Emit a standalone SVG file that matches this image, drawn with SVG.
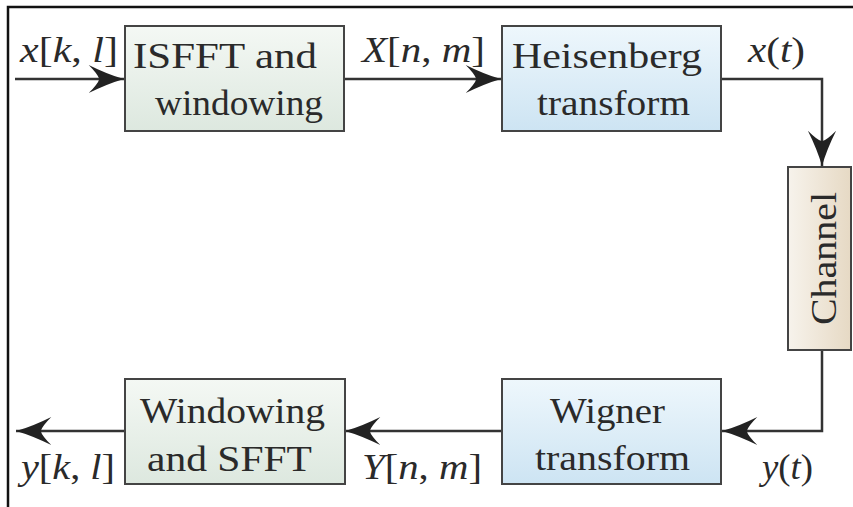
<svg xmlns="http://www.w3.org/2000/svg" width="853" height="507" viewBox="0 0 853 507">
<defs>
<linearGradient id="gGreen" x1="0" y1="0" x2="0" y2="1"><stop offset="0" stop-color="#f4f8f4"/><stop offset="1" stop-color="#dde8df"/></linearGradient>
<linearGradient id="gBlue" x1="0" y1="0" x2="0" y2="1"><stop offset="0" stop-color="#eef7fc"/><stop offset="1" stop-color="#cde4f3"/></linearGradient>
<linearGradient id="gBeige" x1="0" y1="0" x2="1" y2="0"><stop offset="0" stop-color="#f7f3ec"/><stop offset="1" stop-color="#e6d9c4"/></linearGradient>
<marker id="arr" markerUnits="userSpaceOnUse" markerWidth="40" markerHeight="40" viewBox="-32 -14 34 28" refX="0" refY="0" orient="auto">
<path d="M0,0 Q-14,-4 -30,-12 Q-22,-4 -21,0 Q-22,4 -30,12 Q-14,4 0,0 Z" fill="#222"/>
</marker>
</defs>
<style>
.box{stroke:#444;stroke-width:2}
.t{font-family:'Liberation Serif','Times New Roman',Times,Tinos,'Noto Serif','DejaVu Serif',FreeSerif,Georgia,serif;font-size:36px;fill:#2a2a2a}
.i{font-style:italic}
.ln{fill:none;stroke:#333;stroke-width:2.5}
</style>
<rect x="0" y="0" width="853" height="507" fill="#fff"/>
<rect x="8" y="7" width="860" height="520" fill="none" stroke="#111" stroke-width="2.5"/>
<g id="connectors">
<path class="ln" d="M15,79 H124" marker-end="url(#arr)"/>
<path class="ln" d="M344,79 H501" marker-end="url(#arr)"/>
<path class="ln" d="M721,79 H822 V166" marker-end="url(#arr)"/>
<path class="ln" d="M822,350 V431 H722" marker-end="url(#arr)"/>
<path class="ln" d="M502,431 H345" marker-end="url(#arr)"/>
<path class="ln" d="M125,431 H16" marker-end="url(#arr)"/>
</g>
<g id="labels">
<text class="t" x="20" y="62" textLength="98" lengthAdjust="spacingAndGlyphs"><tspan class="i">x</tspan>[<tspan class="i">k</tspan>, <tspan class="i">l</tspan>]</text>
<text class="t" x="362" y="62" textLength="123" lengthAdjust="spacingAndGlyphs"><tspan class="i">X</tspan>[<tspan class="i">n</tspan>, <tspan class="i">m</tspan>]</text>
<text class="t" x="748" y="62" textLength="57" lengthAdjust="spacingAndGlyphs"><tspan class="i">x</tspan>(<tspan class="i">t</tspan>)</text>
<text class="t" x="762" y="479" textLength="51" lengthAdjust="spacingAndGlyphs"><tspan class="i">y</tspan>(<tspan class="i">t</tspan>)</text>
<text class="t" x="362" y="479" textLength="120" lengthAdjust="spacingAndGlyphs"><tspan class="i">Y</tspan>[<tspan class="i">n</tspan>, <tspan class="i">m</tspan>]</text>
<text class="t" x="21" y="479" textLength="94" lengthAdjust="spacingAndGlyphs"><tspan class="i">y</tspan>[<tspan class="i">k</tspan>, <tspan class="i">l</tspan>]</text>
</g>
<g id="isfft">
<rect class="box" x="125" y="26" width="219" height="105" fill="url(#gGreen)"/>
<text class="t" x="133" y="68" textLength="184" lengthAdjust="spacingAndGlyphs">ISFFT and</text>
<text class="t" x="155" y="115" textLength="168" lengthAdjust="spacingAndGlyphs">windowing</text>
</g>
<g id="heisenberg">
<rect class="box" x="502" y="26" width="219" height="105" fill="url(#gBlue)"/>
<text class="t" x="512" y="68" textLength="190" lengthAdjust="spacingAndGlyphs">Heisenberg</text>
<text class="t" x="537" y="115" textLength="153" lengthAdjust="spacingAndGlyphs">transform</text>
</g>
<g id="channel">
<rect class="box" x="788" y="167" width="63" height="183" fill="url(#gBeige)"/>
<text class="t" transform="translate(836,325) rotate(-90)" x="0" y="0" textLength="133" lengthAdjust="spacingAndGlyphs">Channel</text>
</g>
<g id="wigner">
<rect class="box" x="502" y="379" width="219" height="105" fill="url(#gBlue)"/>
<text class="t" x="550" y="423" textLength="115" lengthAdjust="spacingAndGlyphs">Wigner</text>
<text class="t" x="535" y="470" textLength="155" lengthAdjust="spacingAndGlyphs">transform</text>
</g>
<g id="windowing">
<rect class="box" x="125" y="379" width="220" height="105" fill="url(#gGreen)"/>
<text class="t" x="140" y="423" textLength="185" lengthAdjust="spacingAndGlyphs">Windowing</text>
<text class="t" x="147" y="471" textLength="165" lengthAdjust="spacingAndGlyphs">and SFFT</text>
</g>
</svg>
